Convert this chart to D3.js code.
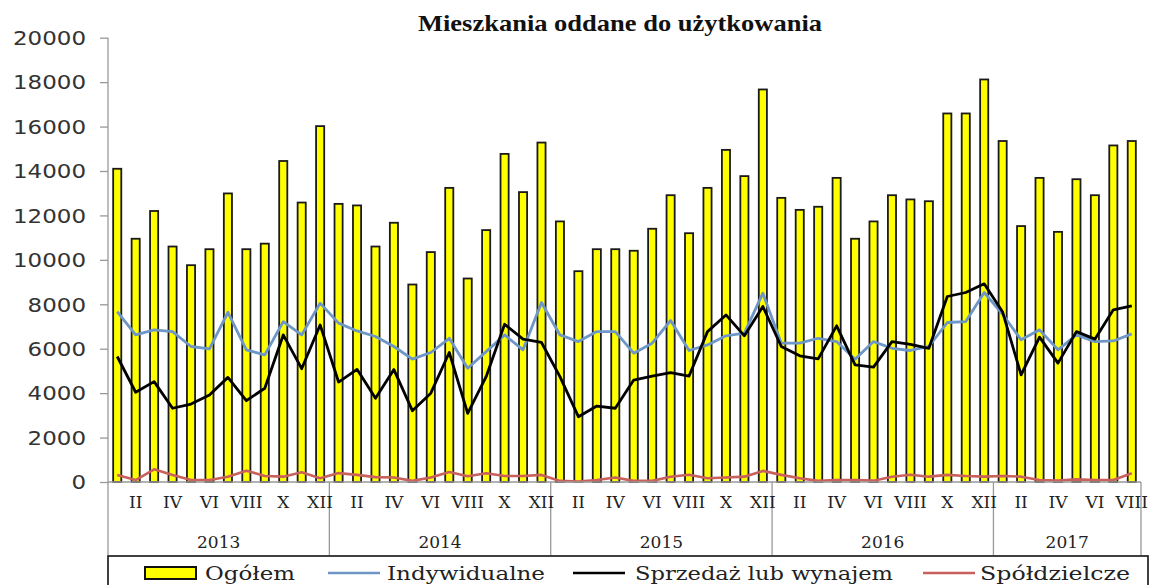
<!DOCTYPE html>
<html lang="pl">
<head>
<meta charset="utf-8">
<script src="https://d3js.org/d3.v7.min.js"></script>
<style>
  body { margin: 0; background: #fff; }
  svg { display: block; }
  .ytick text { font-family: "DejaVu Sans", Verdana, sans-serif; font-size: 19px; fill: #333; }
  .month { font-family: "DejaVu Serif", serif; font-size: 17px; fill: #222; }
  .year { font-family: "DejaVu Serif", serif; font-size: 17px; fill: #222; }
  .legend text { font-family: "DejaVu Serif", serif; font-size: 19px; fill: #222; }
  .title { font-family: "Liberation Serif", "Times New Roman", serif; font-weight: bold; font-size: 23px; fill: #111; }
</style>
</head>
<body>
<script>
// years and number of months shown for each
var years = ["2013", "2014", "2015", "2016", "2017"];
var monthsPerYear = [12, 12, 12, 12, 8];
var romans = ["I", "II", "III", "IV", "V", "VI", "VII", "VIII", "IX", "X", "XI", "XII"];
var yTicks = [0, 2000, 4000, 6000, 8000, 10000, 12000, 14000, 16000, 18000, 20000];

// Ogółem (bars)
var ogolem = [
  14100, 10950, 12200, 10600, 9760, 10480, 12990, 10480, 10730, 14450, 12580, 16020,
  12520, 12450, 10600, 11670, 8890, 10350, 13240, 9160, 11340, 14770, 13050, 15280,
  11730, 9490, 10480, 10480, 10410, 11400, 12910, 11200, 13240, 14950, 13770, 17670,
  12790, 12250, 12390, 13690, 10950, 11730, 12910, 12720, 12640, 16590, 16590, 18120,
  15350, 11520, 13690, 11260, 13630, 12910, 15150, 15350
];
// Indywidualne
var indywidualne = [
  7670, 6620, 6850, 6770, 6100, 5990, 7640, 5950, 5720, 7220, 6620, 8050,
  7150, 6800, 6550, 6100, 5530, 5830, 6470, 5120, 5870, 6620, 5950, 8080,
  6620, 6320, 6770, 6770, 5800, 6250, 7270, 5920, 6170, 6580, 6700, 8500,
  6250, 6250, 6470, 6320, 5530, 6320, 6020, 5920, 6100, 7180, 7220, 8530,
  7550, 6400, 6850, 5950, 6620, 6320, 6350, 6670
];
// Sprzedaż lub wynajem
var sprzedaz = [
  5650, 4040, 4520, 3320, 3510, 3920, 4710, 3660, 4220, 6620, 5100, 7070,
  4500, 5070, 3770, 5060, 3210, 4000, 5830, 3090, 4740, 7100, 6430, 6280,
  4740, 2940, 3420, 3320, 4590, 4770, 4920, 4770, 6770, 7520, 6580, 7900,
  6100, 5680, 5540, 7030, 5270, 5170, 6320, 6200, 6020, 8350, 8530, 8920,
  7650, 4820, 6520, 5350, 6770, 6430, 7750, 7930
];
// Spółdzielcze
var spoldzielcze = [
  320, 90, 570, 320, 90, 90, 240, 510, 270, 240, 440, 170,
  400, 320, 220, 200, 50, 200, 450, 260, 390, 270, 270, 320,
  50, 20, 90, 200, 50, 50, 240, 330, 170, 200, 240, 500,
  320, 170, 50, 90, 90, 60, 240, 330, 240, 320, 270, 240,
  270, 240, 90, 60, 120, 90, 90, 390
];

var W = 1152, H = 585;
var plotLeft = 108, plotRight = 1141, plotTop = 37.7, plotBottom = 482, axisBottom = 555;

var svg = d3.select("body").append("svg")
    .attr("width", W)
    .attr("height", H);

svg.append("rect").attr("width", W).attr("height", H).attr("fill", "#fff");

// month index -> labels
var months = [];
years.forEach(function(yr, yi) {
  for (var m = 0; m < monthsPerYear[yi]; m++) months.push({ year: yr, month: romans[m], m: m });
});

var x = d3.scaleBand()
    .domain(d3.range(months.length))
    .range([plotLeft, plotRight])
    .paddingInner(0.56)
    .paddingOuter(0.28);

var y = d3.scaleLinear()
    .domain([0, 20000])
    .range([plotBottom, plotTop]);

var cx = function(i) { return x(i) + x.bandwidth() / 2; };

// title
svg.append("text")
    .attr("class", "title")
    .attr("x", 418)
    .attr("y", 31)
    .attr("textLength", 404)
    .attr("lengthAdjust", "spacingAndGlyphs")
    .text("Mieszkania oddane do użytkowania");

// bars
svg.append("g")
  .selectAll("rect")
  .data(ogolem)
  .enter().append("rect")
    .attr("x", (d, i) => x(i))
    .attr("y", d => y(d))
    .attr("width", x.bandwidth())
    .attr("height", d => y(0) - y(d))
    .attr("fill", "#ffff00")
    .attr("stroke", "#1a1a1a")
    .attr("stroke-width", 1.8);

// lines
var line = d3.line()
    .x((d, i) => cx(i))
    .y(d => y(d));

var series = [
  { data: spoldzielcze, color: "#c9605c", width: 2.6 },
  { data: indywidualne, color: "#6e97c8", width: 2.8 },
  { data: sprzedaz, color: "#000", width: 2.8 }
];

svg.append("g")
  .selectAll("path")
  .data(series)
  .enter().append("path")
    .attr("d", d => line(d.data))
    .attr("fill", "none")
    .attr("stroke", d => d.color)
    .attr("stroke-width", d => d.width)
    .attr("stroke-linejoin", "round");

// y axis
var yAxis = d3.axisLeft(y)
    .tickValues(yTicks)
    .tickSize(8)
    .tickPadding(14)
    .tickFormat(d3.format("d"));

var yAxisGroup = svg.append("g")
    .attr("class", "ytick")
    .attr("transform", "translate(" + plotLeft + ",0)")
    .call(yAxis);

yAxisGroup.select(".domain").remove();
yAxisGroup.selectAll("line").attr("stroke", "#999").attr("stroke-width", 1.3);
yAxisGroup.selectAll("text")
    .attr("textLength", d => String(d).length * 14.6)
    .attr("lengthAdjust", "spacingAndGlyphs")
    .attr("dy", "0.36em");

// axis frame lines
var frame = svg.append("g").attr("stroke", "#999").attr("stroke-width", 1.3);
frame.append("line").attr("x1", plotLeft).attr("x2", plotLeft).attr("y1", plotTop).attr("y2", axisBottom);
frame.append("line").attr("x1", plotLeft).attr("x2", plotRight).attr("y1", plotBottom).attr("y2", plotBottom);

// year separators
var yearStart = [];
var acc = 0;
monthsPerYear.forEach(function(n) { yearStart.push(acc); acc += n; });
var step = x.step();
var edge = function(i) { return plotLeft + i * step; };

frame.selectAll(".sep")
  .data(yearStart.slice(1).concat([months.length]))
  .enter().append("line")
    .attr("x1", d => edge(d))
    .attr("x2", d => edge(d))
    .attr("y1", plotBottom)
    .attr("y2", axisBottom);

// month labels (every second)
svg.append("g")
  .selectAll("text")
  .data(months.filter(d => d.m % 2 === 1))
  .enter().append("text")
    .attr("class", "month")
    .attr("x", d => cx(months.indexOf(d)))
    .attr("y", 508)
    .attr("text-anchor", "middle")
    .text(d => d.month);

// year labels
svg.append("g")
  .selectAll("text")
  .data(years)
  .enter().append("text")
    .attr("class", "year")
    .attr("x", (d, i) => (edge(yearStart[i]) + edge(yearStart[i] + monthsPerYear[i])) / 2)
    .attr("y", 548)
    .attr("text-anchor", "middle")
    .text(d => d);

// legend
var legend = svg.append("g").attr("class", "legend");

legend.append("rect")
    .attr("x", 108)
    .attr("y", 556)
    .attr("width", 1040)
    .attr("height", 40)
    .attr("fill", "none")
    .attr("stroke", "#111")
    .attr("stroke-width", 1.6);

legend.append("rect")
    .attr("x", 145)
    .attr("y", 567)
    .attr("width", 51)
    .attr("height", 12)
    .attr("fill", "#ffff00")
    .attr("stroke", "#111")
    .attr("stroke-width", 2);

var legendItems = [
  { name: "Ogółem", tx: 205, tw: 90 },
  { name: "Indywidualne", color: "#6e97c8", lx: 328, tx: 387, tw: 158 },
  { name: "Sprzedaż lub wynajem", color: "#000", lx: 573, tx: 635, tw: 258 },
  { name: "Spółdzielcze", color: "#c9605c", lx: 923, tx: 980, tw: 150 }
];

legend.selectAll("line")
  .data(legendItems.filter(d => d.color))
  .enter().append("line")
    .attr("x1", d => d.lx)
    .attr("x2", d => d.lx + 52)
    .attr("y1", 573)
    .attr("y2", 573)
    .attr("stroke", d => d.color)
    .attr("stroke-width", 2.6);

legend.selectAll("text")
  .data(legendItems)
  .enter().append("text")
    .attr("x", d => d.tx)
    .attr("y", 580)
    .attr("textLength", d => d.tw)
    .attr("lengthAdjust", "spacingAndGlyphs")
    .text(d => d.name);
</script>
</body>
</html>
